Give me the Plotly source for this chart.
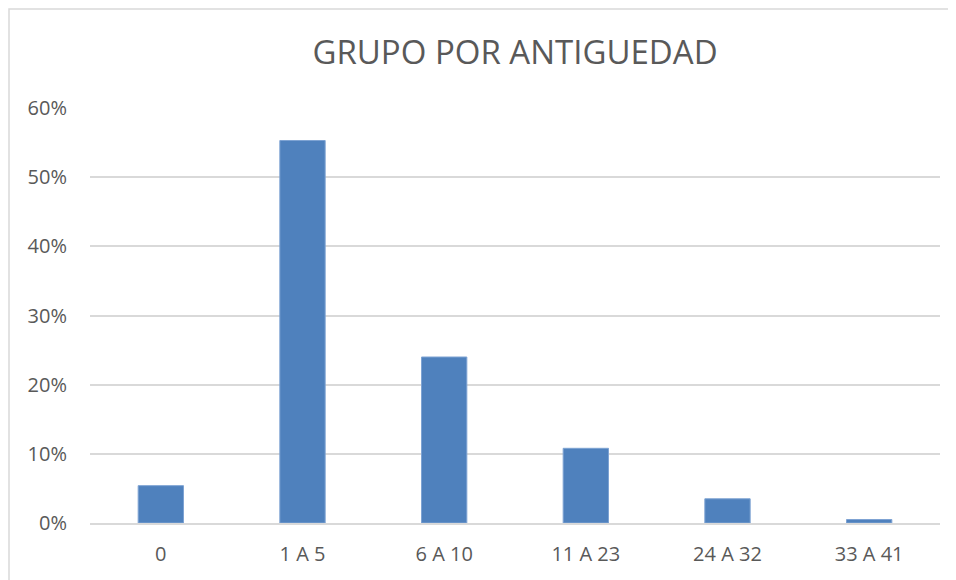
import plotly.graph_objects as go

categories = ["0", "1 A 5", "6 A 10", "11 A 23", "24 A 32", "33 A 41"]
values = [0.054, 0.553, 0.240, 0.108, 0.035, 0.005]
y_ticks = [0, 0.1, 0.2, 0.3, 0.4, 0.5, 0.6]
y_tick_labels = ["0%", "10%", "20%", "30%", "40%", "50%", "60%"]
title_text = "GRUPO POR ANTIGUEDAD"

W, H = 956, 580
# page has an 8px body margin, so figure coords = screen coords - 8
L, T = 82, 100
R = W - 932
B = H - 515
pw, ph = W - L - R, H - T - B

fig = go.Figure(go.Bar(
    x=categories, y=values,
    marker=dict(color="#4F81BD", line=dict(color="#7EA3D3", width=1)),
    width=0.32,
))

fig.update_layout(
    width=W, height=H,
    margin=dict(l=L, r=R, t=T, b=B),
    paper_bgcolor="white", plot_bgcolor="white",
    font=dict(family="Open Sans, Liberation Sans, sans-serif", color="#595959", size=20),
    title=dict(text=title_text, x=0.5, xanchor="center", xref="paper",
               y=1 - 44 / H, yanchor="middle",
               font=dict(size=33, color="#595959", family="Open Sans, sans-serif")),
    showlegend=False,
)
fig.update_xaxes(showgrid=False, showline=True, linecolor="#D9D9D9", linewidth=1.5,
                 ticks="", tickfont=dict(size=20, color="#595959"), ticklabelstandoff=12)
fig.update_yaxes(range=[0, 0.6], tickvals=y_ticks, ticktext=y_tick_labels,
                 showgrid=True, gridcolor="#D9D9D9", gridwidth=1.5, zeroline=False,
                 showline=False, ticks="", tickfont=dict(size=20, color="#595959"),
                 ticklabelstandoff=22)

# chart frame
fig.add_shape(type="rect", xref="paper", yref="paper",
              x0=(1 - L) / pw, x1=(W + 20 - L) / pw,
              y0=-(B + 20) / ph, y1=(H - 1 - B) / ph,
              line=dict(color="#D9D9D9", width=1.5), fillcolor="rgba(0,0,0,0)", layer="below")

fig.write_html("out.html")
